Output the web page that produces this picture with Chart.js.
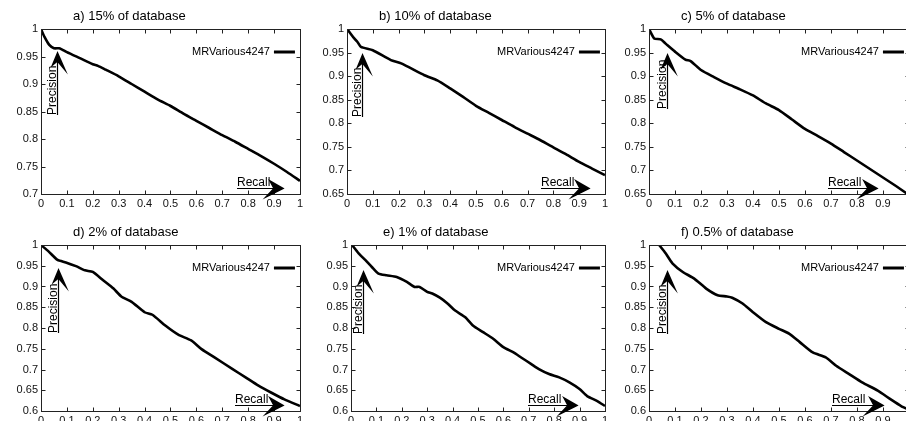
<!DOCTYPE html>
<html>
<head>
<meta charset="utf-8">
<script src="https://cdn.jsdelivr.net/npm/chart.js@4.4.1/dist/chart.umd.min.js"></script>
<style>
    html, body { margin: 0; padding: 0; background: #fff; }
    body { width: 906px; height: 421px; overflow: hidden; position: relative; }
    canvas { position: absolute; }
</style>
</head>
<body>
<script>
// precision / recall curves
const recallA = [0, 0.013, 0.032, 0.05, 0.07, 0.08, 0.1, 0.15, 0.2, 0.22, 0.25, 0.3, 0.35, 0.4, 0.45, 0.5, 0.55, 0.6, 0.65, 0.7, 0.75, 0.8, 0.85, 0.9, 0.95, 1];
const precisionA = [1, 0.986, 0.971, 0.965, 0.965, 0.963, 0.958, 0.947, 0.936, 0.933, 0.926, 0.914, 0.9, 0.886, 0.872, 0.86, 0.846, 0.833, 0.82, 0.807, 0.795, 0.782, 0.769, 0.755, 0.74, 0.724];

const recallB = [0, 0.01, 0.028, 0.04, 0.054, 0.1, 0.17, 0.21, 0.3, 0.35, 0.4, 0.45, 0.5, 0.55, 0.6, 0.65, 0.7, 0.75, 0.8, 0.85, 0.9, 0.95, 1];
const precisionB = [1, 0.993, 0.98, 0.973, 0.962, 0.955, 0.934, 0.927, 0.902, 0.891, 0.874, 0.856, 0.837, 0.822, 0.807, 0.792, 0.778, 0.764, 0.749, 0.734, 0.718, 0.704, 0.69];

const recallC = [0, 0.02, 0.045, 0.064, 0.1, 0.14, 0.16, 0.2, 0.25, 0.3, 0.35, 0.4, 0.45, 0.5, 0.55, 0.6, 0.65, 0.7, 0.75, 0.8, 0.85, 0.9, 0.95, 1];
const precisionC = [1, 0.98, 0.978, 0.969, 0.952, 0.935, 0.932, 0.913, 0.898, 0.884, 0.872, 0.859, 0.842, 0.828, 0.808, 0.788, 0.773, 0.757, 0.739, 0.721, 0.703, 0.685, 0.667, 0.648];

const recallD = [0, 0.03, 0.064, 0.096, 0.135, 0.17, 0.2, 0.24, 0.28, 0.31, 0.35, 0.4, 0.43, 0.48, 0.53, 0.58, 0.62, 0.67, 0.74, 0.79, 0.84, 0.89, 0.94, 1];
const precisionD = [1, 0.984, 0.964, 0.958, 0.949, 0.939, 0.935, 0.915, 0.895, 0.876, 0.863, 0.838, 0.832, 0.806, 0.784, 0.77, 0.749, 0.729, 0.701, 0.681, 0.661, 0.644, 0.628, 0.612];

const recallE = [0.004, 0.03, 0.056, 0.082, 0.108, 0.14, 0.18, 0.22, 0.25, 0.27, 0.3, 0.32, 0.35, 0.38, 0.41, 0.45, 0.48, 0.52, 0.56, 0.6, 0.64, 0.67, 0.71, 0.74, 0.78, 0.82, 0.86, 0.9, 0.93, 0.97, 1];
const precisionE = [1, 0.98, 0.964, 0.947, 0.931, 0.927, 0.923, 0.911, 0.899, 0.899, 0.887, 0.883, 0.873, 0.859, 0.842, 0.826, 0.806, 0.79, 0.774, 0.754, 0.741, 0.729, 0.713, 0.701, 0.689, 0.681, 0.669, 0.653, 0.636, 0.624, 0.612];

const recallF = [0.039, 0.064, 0.09, 0.13, 0.174, 0.22, 0.264, 0.3, 0.32, 0.36, 0.4, 0.45, 0.5, 0.54, 0.58, 0.63, 0.68, 0.72, 0.77, 0.82, 0.88, 0.93, 0.97, 1];
const precisionF = [1, 0.98, 0.956, 0.935, 0.919, 0.895, 0.879, 0.876, 0.873, 0.859, 0.838, 0.814, 0.798, 0.786, 0.766, 0.741, 0.729, 0.709, 0.689, 0.669, 0.649, 0.628, 0.612, 0.603];

const titles = ["a) 15% of database", "b) 10% of database", "c) 5% of database",
                "d) 2% of database", "e) 1% of database", "f) 0.5% of database"];
const seriesName = "MRVarious4247";
const yMins = [0.7, 0.65, 0.65, 0.6, 0.6, 0.6];
const yMax = 1;
const yStep = 0.05;
const xStep = 0.1;

const recalls = [recallA, recallB, recallC, recallD, recallE, recallF];
const precisions = [precisionA, precisionB, precisionC, precisionD, precisionE, precisionF];

// plot boxes on the page + where the little arrows sit
const boxes = [
    {l: 41,  t: 29,  r: 301, b: 194, precX: 16, precTip: 24, precBot: 86, recL: 196, recTip: 242},
    {l: 347, t: 29,  r: 606, b: 194, precX: 15, precTip: 26, precBot: 88, recL: 194, recTip: 242},
    {l: 649, t: 29,  r: 910, b: 194, precX: 18, precTip: 26, precBot: 80, recL: 179, recTip: 228},
    {l: 41,  t: 245, r: 301, b: 411, precX: 17, precTip: 25, precBot: 88, recL: 194, recTip: 242},
    {l: 351, t: 245, r: 606, b: 411, precX: 12, precTip: 27, precBot: 89, recL: 177, recTip: 226},
    {l: 649, t: 245, r: 910, b: 411, precX: 18, precTip: 27, precBot: 89, recL: 183, recTip: 234},
];

const FONT = '"Liberation Sans", Arial, Helvetica, sans-serif';
const fmt = v => String(Math.round(v * 100) / 100);

const gnuFrame = {
    id: "gnuFrame",
    afterDraw(chart) {
        const c = chart.ctx, a = chart.chartArea, o = chart.options.plugins.gnuFrame;
        const xs = chart.scales.x, ys = chart.scales.y;
        c.save();
        // border + inward ticks
        c.strokeStyle = "#222";
        c.lineWidth = 1;
        const L = Math.round(a.left) + 0.5, T = Math.round(a.top) + 0.5;
        const R = Math.round(a.right) + 0.5, B = Math.round(a.bottom) + 0.5;
        c.strokeRect(L, T, R - L, B - T);
        c.beginPath();
        xs.ticks.forEach(t => {
            const x = Math.round(xs.getPixelForValue(t.value)) + 0.5;
            c.moveTo(x, B); c.lineTo(x, B - 4);
            c.moveTo(x, T); c.lineTo(x, T + 4);
        });
        ys.ticks.forEach(t => {
            const y = Math.round(ys.getPixelForValue(t.value)) + 0.5;
            c.moveTo(L, y); c.lineTo(L + 4, y);
            c.moveTo(R, y); c.lineTo(R - 4, y);
        });
        c.stroke();

        // title
        c.fillStyle = "#000";
        c.font = "13px " + FONT;
        c.textAlign = "left";
        c.textBaseline = "middle";
        c.fillText(o.title, a.left + 32, a.top - 13);

        // legend
        c.font = "11px " + FONT;
        c.textAlign = "right";
        c.fillText(o.label, a.right - 30, a.top + 23);
        c.strokeStyle = "#000";
        c.lineWidth = 3;
        c.beginPath();
        c.moveTo(a.right - 26, a.top + 23);
        c.lineTo(a.right - 5, a.top + 23);
        c.stroke();

        // Precision arrow
        const px = a.left + o.precX, pt = a.top + o.precTip, pb = a.top + o.precBot;
        c.lineWidth = 1.2;
        c.beginPath();
        c.moveTo(px + 0.5, pb);
        c.lineTo(px + 0.5, pt + 6);
        c.stroke();
        c.beginPath();
        c.moveTo(px + 0.5, pt);
        c.lineTo(px - 4.5, pt + 12);
        c.lineTo(px + 0.5, pt + 8);
        c.lineTo(px + 8, pt + 17);
        c.closePath();
        c.lineWidth = 1.5;
        c.fill();
        c.stroke();
        c.font = "12px " + FONT;
        c.save();
        c.translate(px - 1, pb);
        c.rotate(-Math.PI / 2);
        c.textAlign = "left";
        c.textBaseline = "alphabetic";
        c.fillText("Precision", 0, 0);
        c.restore();

        // Recall arrow
        const ry = a.bottom - 6, rl = a.left + o.recL, rt = a.left + o.recTip;
        c.lineWidth = 1.2;
        c.beginPath();
        c.moveTo(rl, ry + 0.5);
        c.lineTo(rt - 6, ry + 0.5);
        c.stroke();
        c.beginPath();
        c.moveTo(rt, ry + 0.5);
        c.lineTo(rt - 13, ry - 7);
        c.lineTo(rt - 9, ry + 0.5);
        c.lineTo(rt - 17, ry + 9);
        c.closePath();
        c.lineWidth = 1.5;
        c.fill();
        c.stroke();
        c.textAlign = "left";
        c.textBaseline = "alphabetic";
        c.fillText("Recall", rl, ry - 2);
        c.restore();
    }
};

boxes.forEach((bx, i) => {
    const cv = document.createElement("canvas");
    const w = bx.r - bx.l + 46, h = bx.b - bx.t + 29 + 16;
    cv.width = w;
    cv.height = h;
    cv.style.left = (bx.l - 41) + "px";
    cv.style.top = (bx.t - 29) + "px";
    document.body.appendChild(cv);

    const pts = recalls[i].map((r, k) => ({x: r, y: precisions[i][k]}));

    new Chart(cv.getContext("2d"), {
        type: "line",
        data: {
            datasets: [{
                label: seriesName,
                data: pts,
                borderColor: "#000",
                borderWidth: 2.6,
                pointRadius: 0,
                tension: 0.2,
                fill: false,
            }],
        },
        options: {
            responsive: false,
            animation: false,
            layout: {padding: {top: 29, right: 5, left: 0, bottom: 0}},
            plugins: {
                legend: {display: false},
                tooltip: {enabled: false},
                gnuFrame: Object.assign({title: titles[i], label: seriesName}, bx),
            },
            scales: {
                x: {
                    type: "linear",
                    min: 0,
                    max: 1,
                    grid: {display: false, drawTicks: false},
                    border: {display: false},
                    ticks: {
                        stepSize: xStep, autoSkip: false, maxRotation: 0, padding: 3,
                        color: "#111", font: {family: FONT, size: 11},
                        callback: fmt,
                    },
                    afterFit: s => { s.height = 16; },
                },
                y: {
                    min: yMins[i],
                    max: yMax,
                    grid: {display: false, drawTicks: false},
                    border: {display: false},
                    ticks: {
                        stepSize: yStep, autoSkip: false, padding: 3,
                        color: "#111", font: {family: FONT, size: 11},
                        callback: fmt,
                    },
                    afterFit: s => { s.width = 41; },
                },
            },
        },
        plugins: [gnuFrame],
    });
});
</script>
</body>
</html>
